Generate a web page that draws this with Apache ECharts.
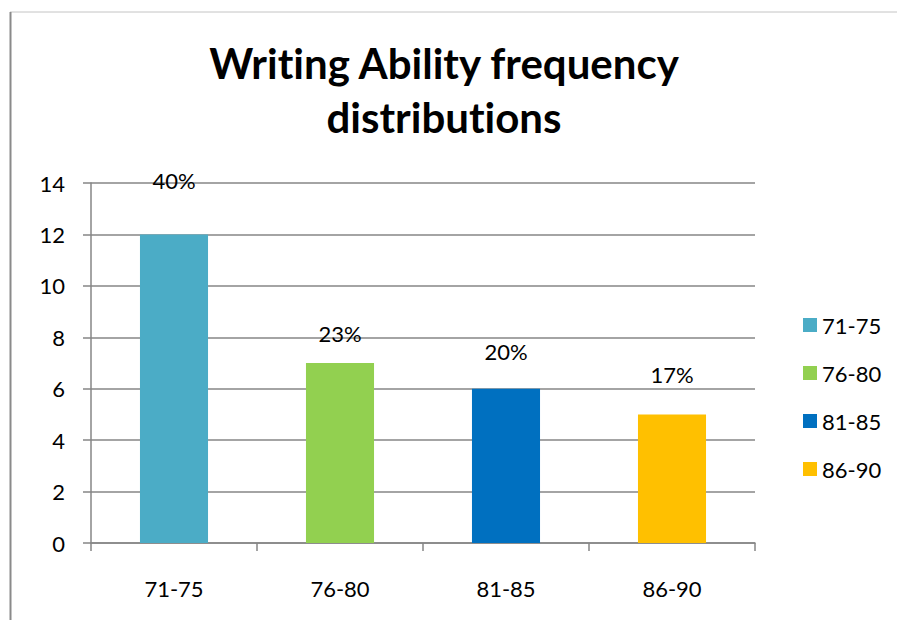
<!DOCTYPE html>
<html>
<head>
<meta charset="utf-8">
<script src="https://cdn.jsdelivr.net/npm/echarts@6/dist/echarts.min.js"></script>
<style>
  html, body { margin: 0; padding: 0; background: #fff; }
  #chart { width: 897px; height: 620px; }
  #chart text { font-variant-ligatures: none; }
</style>
</head>
<body>
<div id="chart"></div>
<script>
// Score bands and how many students fell into each
const categories = ['71-75', '76-80', '81-85', '86-90'];
const frequencies = [12, 7, 6, 5];
const barColors = ['#4BACC6', '#92D050', '#0070C0', '#FFC000'];
const yTicks = { min: 0, max: 14, interval: 2 };
// How far each percentage label sits above its bar
const labelLift = [43, 19, 26, 29];

const FONT = 'Lato, "Open Sans", sans-serif';
const total = frequencies.reduce((a, b) => a + b, 0);

const series = categories.map((name, i) => ({
  name: name,
  type: 'bar',
  stack: 'bands',
  barWidth: '41%',
  itemStyle: { color: barColors[i] },
  label: {
    show: true,
    position: 'top',
    distance: labelLift[i],
    color: '#000',
    fontFamily: FONT,
    fontSize: 22,
    formatter: p => Math.round(p.value / total * 100) + '%'
  },
  data: frequencies.map((v, j) => (j === i ? v : '-'))
}));

const chart = echarts.init(document.getElementById('chart'), null, { renderer: 'svg' });
chart.setOption({
  animation: false,
  backgroundColor: '#fff',
  title: {
    text: 'Writing Ability frequency\ndistributions',
    left: 439,
    textAlign: 'center',
    top: 31,
    textStyle: {
      fontFamily: FONT,
      fontWeight: 'bold',
      fontSize: 42,
      lineHeight: 54,
      color: '#000'
    }
  },
  legend: {
    orient: 'vertical',
    left: 798,
    top: 309,
    itemWidth: 14,
    itemHeight: 14,
    itemGap: 26,
    icon: 'rect',
    textStyle: { fontFamily: FONT, fontSize: 22, color: '#000' },
    data: categories
  },
  grid: { left: 91, right: 142, top: 183, bottom: 77, containLabel: false },
  xAxis: {
    type: 'category',
    data: categories,
    axisLine: { lineStyle: { color: '#868686', width: 1.5 } },
    axisTick: { show: true, length: 8, lineStyle: { color: '#868686', width: 1.5 } },
    axisLabel: { margin: 34, color: '#000', fontFamily: FONT, fontSize: 22 }
  },
  yAxis: {
    type: 'value',
    min: yTicks.min,
    max: yTicks.max,
    interval: yTicks.interval,
    axisLine: { show: true, lineStyle: { color: '#868686', width: 1.5 } },
    axisTick: { show: true, length: 8, lineStyle: { color: '#868686', width: 1.5 } },
    splitLine: { lineStyle: { color: '#868686', width: 1.5 } },
    axisLabel: { margin: 26, color: '#000', fontFamily: FONT, fontSize: 22 }
  },
  graphic: [
    { type: 'line', shape: { x1: 10, y1: 12, x2: 897, y2: 12 }, style: { stroke: '#c4c4c4', lineWidth: 1 } },
    { type: 'line', shape: { x1: 10.5, y1: 12, x2: 10.5, y2: 620 }, style: { stroke: '#8a8a8a', lineWidth: 2 } }
  ],
  series: series
});
</script>
</body>
</html>
